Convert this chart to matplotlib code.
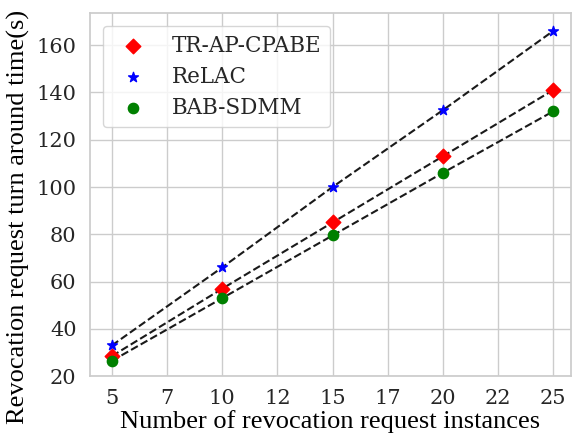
import matplotlib
matplotlib.use("Agg")
import matplotlib.pyplot as plt
import seaborn as sns

instances = [5, 10, 15, 20, 25]
tr_ap_cpabe = [28.5, 57, 85, 113, 141]
relac = [33, 66, 100, 132.5, 166]
bab_sdmm = [26.5, 53, 79.5, 106, 132]

sns.set_theme(style="whitegrid")
plt.rcParams['font.family'] = ['DejaVu Serif']

fig = plt.figure(figsize=(5.72, 4.4), dpi=100)
ax = fig.add_axes([0.157, 0.145, 0.841, 0.825])

ax.plot(instances, tr_ap_cpabe, 'k--', zorder=2)
ax.plot(instances, relac, 'k--', zorder=2)
ax.plot(instances, bab_sdmm, 'k--', zorder=2)
ax.scatter(instances, tr_ap_cpabe, marker='D', color='red', s=55, label='TR-AP-CPABE', zorder=3)
ax.scatter(instances, relac, marker='*', color='blue', s=55, label='ReLAC', zorder=3)
ax.scatter(instances, bab_sdmm, marker='o', color='green', s=55, label='BAB-SDMM', zorder=3)

ax.set_xlim(4, 25.8)
ax.set_ylim(20.5, 173.5)
xt = [5, 7.5, 10, 12.5, 15, 17.5, 20, 22.5, 25]
ax.set_xticks(xt)
ax.set_xticklabels([str(int(v)) for v in xt])
ax.set_yticks([20, 40, 60, 80, 100, 120, 140, 160])
ax.tick_params(labelsize=15)

ax.set_xlabel("Number of revocation request instances", fontsize=19,
              family='Liberation Serif', color='black', labelpad=1)
ax.set_ylabel("Revocation request turn around time(s)", fontsize=19,
              family='Liberation Serif', color='black')
ax.yaxis.set_label_coords(-0.125, 0.44)

ax.legend(loc='upper left', fontsize=15.5, frameon=True, labelspacing=0.42,
          borderaxespad=0.6)

fig.savefig("out.png", dpi=100)
